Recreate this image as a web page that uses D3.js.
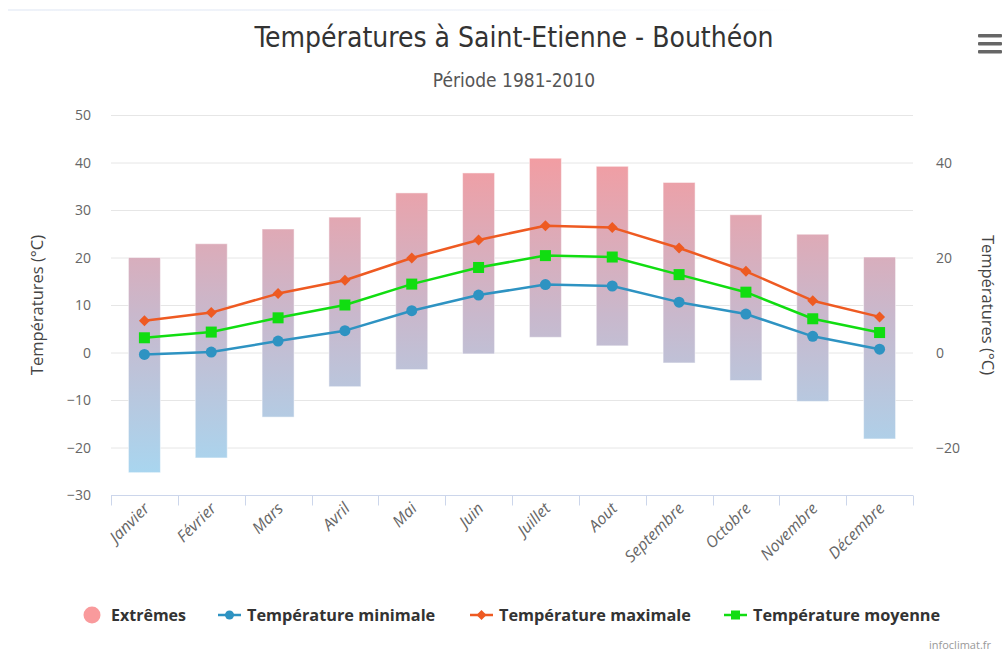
<!DOCTYPE html>
<html>
<head>
<meta charset="utf-8">
<script src="https://cdn.jsdelivr.net/npm/d3@7"></script>
<style>
	body { margin: 0; background: #ffffff; }
	svg { display: block; }
</style>
</head>
<body>
<script>
// données : normales 1981-2010
var months = ["Janvier", "Février", "Mars", "Avril", "Mai", "Juin", "Juillet", "Aout", "Septembre", "Octobre", "Novembre", "Décembre"];
var extremeHigh = [20.0, 22.9, 26.0, 28.5, 33.6, 37.8, 40.9, 39.2, 35.8, 29.0, 24.9, 20.1];
var extremeLow = [-25.3, -22.2, -13.6, -7.2, -3.6, -0.3, 3.2, 1.4, -2.2, -5.9, -10.3, -18.2];
var tMin = [-0.4, 0.1, 2.4, 4.6, 8.8, 12.1, 14.3, 14.0, 10.6, 8.1, 3.4, 0.7];
var tMax = [6.7, 8.4, 12.4, 15.2, 19.9, 23.7, 26.7, 26.3, 22.0, 17.1, 10.9, 7.5];
var tMoy = [3.1, 4.3, 7.3, 10.0, 14.4, 17.9, 20.4, 20.1, 16.4, 12.7, 7.1, 4.2];
var leftTicks = [-30, -20, -10, 0, 10, 20, 30, 40, 50];
var rightTicks = [-20, 0, 20, 40];

var W = 1004, H = 653;
var plotLeft = 111, plotRight = 913, plotTop = 115, plotBottom = 495;
var font = "'Open Sans', 'DejaVu Sans', sans-serif";
var condensed = "'DejaVu Sans Condensed', 'DejaVu Sans', sans-serif";

var svg = d3.select("body")
	.append("svg")
	.attr("width", W)
	.attr("height", H);

var x = d3.scaleBand()
	.domain(months)
	.range([plotLeft, plotRight]);
var y = d3.scaleLinear()
	.domain([-30, 50])
	.range([plotBottom, plotTop]);

var defs = svg.append("defs");
var grad = defs.append("linearGradient")
	.attr("id", "extremes")
	.attr("gradientUnits", "userSpaceOnUse")
	.attr("x1", 0).attr("x2", 0)
	.attr("y1", y(42)).attr("y2", y(-26));
grad.append("stop").attr("offset", "0").attr("stop-color", "#f39ca1");
grad.append("stop").attr("offset", "0.5").attr("stop-color", "#c9b8cc");
grad.append("stop").attr("offset", "1").attr("stop-color", "#a8d6f0");

var topFade = defs.append("linearGradient").attr("id", "topfade");
topFade.append("stop").attr("offset", "0").attr("stop-color", "#eef2f9");
topFade.append("stop").attr("offset", "0.5").attr("stop-color", "#f1f4fa");
topFade.append("stop").attr("offset", "1").attr("stop-color", "#ffffff");

svg.append("rect")
	.attr("x", 8).attr("y", 9)
	.attr("width", 800).attr("height", 2)
	.attr("fill", "url(#topfade)");

// titre
svg.append("text")
	.attr("x", 514).attr("y", 47)
	.attr("text-anchor", "middle")
	.style("font-family", condensed)
	.style("font-size", "28px")
	.style("fill", "#333333")
	.text("Températures à Saint-Etienne - Bouthéon");
svg.append("text")
	.attr("x", 514).attr("y", 87)
	.attr("text-anchor", "middle")
	.style("font-family", condensed)
	.style("font-size", "19px")
	.style("fill", "#555555")
	.text("Période 1981-2010");

// menu
d3.range(3).map(function (i) {
	svg.append("rect")
		.attr("x", 978).attr("y", 34 + i * 8)
		.attr("width", 24).attr("height", 3.5)
		.attr("rx", 1)
		.attr("fill", "#666666");
});

// grille
svg.append("g")
	.selectAll("line")
	.data(leftTicks.filter(function (d) { return d > -30; }))
	.join("line")
	.attr("x1", plotLeft).attr("x2", plotRight)
	.attr("y1", function (d) { return y(d) + 0.5; })
	.attr("y2", function (d) { return y(d) + 0.5; })
	.attr("stroke", "#e6e6e6");

// axe gauche
var yAxisL = svg.append("g")
	.attr("transform", "translate(" + (plotLeft - 20) + ",0)")
	.call(d3.axisLeft(y).tickValues(leftTicks).tickSize(0).tickPadding(0));
yAxisL.select(".domain").remove();
yAxisL.selectAll("text")
	.attr("dy", "0.35em")
	.style("font-family", font)
	.style("font-size", "14px")
	.style("fill", "#666666");

// axe droit
var yAxisR = svg.append("g")
	.attr("transform", "translate(" + (plotRight + 23) + ",0)")
	.call(d3.axisRight(y).tickValues(rightTicks).tickSize(0).tickPadding(0));
yAxisR.select(".domain").remove();
yAxisR.selectAll("text")
	.attr("dy", "0.35em")
	.style("font-family", font)
	.style("font-size", "14px")
	.style("fill", "#666666");

svg.append("text")
	.attr("transform", "translate(43," + ((plotTop + plotBottom) / 2) + ") rotate(-90)")
	.attr("text-anchor", "middle")
	.style("font-family", font)
	.style("font-size", "16.5px")
	.style("fill", "#444444")
	.text("Températures (°C)");
svg.append("text")
	.attr("transform", "translate(982," + ((plotTop + plotBottom) / 2) + ") rotate(90)")
	.attr("text-anchor", "middle")
	.style("font-family", font)
	.style("font-size", "16.5px")
	.style("fill", "#444444")
	.text("Températures (°C)");

// axe des mois
var xAxis = svg.append("g")
	.attr("transform", "translate(0," + (plotBottom + 0.5) + ")");
xAxis.append("line")
	.attr("x1", plotLeft).attr("x2", plotRight)
	.attr("stroke", "#ccd6eb");
xAxis.selectAll("line.tick")
	.data(d3.range(months.length + 1))
	.join("line")
	.attr("class", "tick")
	.attr("x1", function (i) { return Math.round(plotLeft + i * x.step()) + 0.5; })
	.attr("x2", function (i) { return Math.round(plotLeft + i * x.step()) + 0.5; })
	.attr("y1", 0).attr("y2", 10)
	.attr("stroke", "#ccd6eb");
xAxis.selectAll("text")
	.data(months)
	.join("text")
	.attr("transform", function (d) {
		return "translate(" + (x(d) + x.bandwidth() / 2 + 6) + ",14) rotate(-45)";
	})
	.attr("text-anchor", "end")
	.style("font-family", font)
	.style("font-style", "italic")
	.style("font-size", "16px")
	.style("fill", "#666666")
	.text(function (d) { return d; });

// barres des extrêmes
var barW = 32;
svg.append("g")
	.selectAll("rect")
	.data(months)
	.join("rect")
	.attr("x", function (d) { return x(d) + x.bandwidth() / 2 - barW / 2; })
	.attr("y", function (d, i) { return y(extremeHigh[i]); })
	.attr("width", barW)
	.attr("height", function (d, i) { return y(extremeLow[i]) - y(extremeHigh[i]); })
	.attr("fill", "url(#extremes)")
	.attr("stroke", "#ffffff")
	.attr("stroke-opacity", 0.5)
	.attr("stroke-width", 1);

// courbes
var cx = function (d, i) { return x(months[i]) + x.bandwidth() / 2; };
var series = [
	{ name: "Température minimale", values: tMin, color: "#2e93c2", symbol: "circle" },
	{ name: "Température maximale", values: tMax, color: "#ee5a22", symbol: "diamond" },
	{ name: "Température moyenne", values: tMoy, color: "#11dd11", symbol: "square" }
];
function marker(g, s, px, py) {
	if (s.symbol === "circle") {
		g.append("circle").attr("cx", px).attr("cy", py).attr("r", 5.5).attr("fill", s.color);
	} else if (s.symbol === "diamond") {
		g.append("path")
			.attr("d", "M" + px + "," + (py - 5.5) + "L" + (px + 5.5) + "," + py + "L" + px + "," + (py + 5.5) + "L" + (px - 5.5) + "," + py + "Z")
			.attr("fill", s.color);
	} else {
		g.append("rect").attr("x", px - 5.5).attr("y", py - 5.5).attr("width", 11).attr("height", 11).attr("fill", s.color);
	}
}
series.map(function (s) {
	var g = svg.append("g");
	g.append("path")
		.datum(s.values)
		.attr("d", d3.line().x(cx).y(function (d) { return y(d); }))
		.attr("fill", "none")
		.attr("stroke", s.color)
		.attr("stroke-width", 2.5)
		.attr("stroke-linejoin", "round");
	s.values.map(function (v, i) {
		marker(g, s, cx(v, i), y(v));
	});
});

// légende
var legend = svg.append("g").attr("transform", "translate(0,615)");
legend.append("circle").attr("cx", 92).attr("cy", 0).attr("r", 8.5).attr("fill", "#f99a9c");
legend.append("text")
	.attr("x", 111).attr("y", 0).attr("dy", "0.35em")
	.style("font-family", font).style("font-weight", "bold").style("font-size", "16px")
	.style("fill", "#333333")
	.text("Extrêmes");
var legendX = [218, 470, 724];
series.map(function (s, i) {
	var lg = legend.append("g").attr("transform", "translate(" + legendX[i] + ",0)");
	lg.append("line").attr("x1", 0).attr("x2", 23).attr("stroke", s.color).attr("stroke-width", 2.5);
	if (s.symbol === "circle") {
		lg.append("circle").attr("cx", 11.5).attr("cy", 0).attr("r", 4.5).attr("fill", s.color);
	} else if (s.symbol === "diamond") {
		lg.append("path").attr("d", "M11.5,-5L16.5,0L11.5,5L6.5,0Z").attr("fill", s.color);
	} else {
		lg.append("rect").attr("x", 7).attr("y", -4.5).attr("width", 9).attr("height", 9).attr("fill", s.color);
	}
	lg.append("text")
		.attr("x", 29).attr("y", 0).attr("dy", "0.35em")
		.style("font-family", font).style("font-weight", "bold").style("font-size", "16.3px")
		.style("fill", "#333333")
		.text(s.name);
});

// crédits
svg.append("text")
	.attr("x", 929).attr("y", 649)
	.style("font-family", font)
	.style("font-size", "11px")
	.style("fill", "#999999")
	.text("infoclimat.fr");
</script>
</body>
</html>
